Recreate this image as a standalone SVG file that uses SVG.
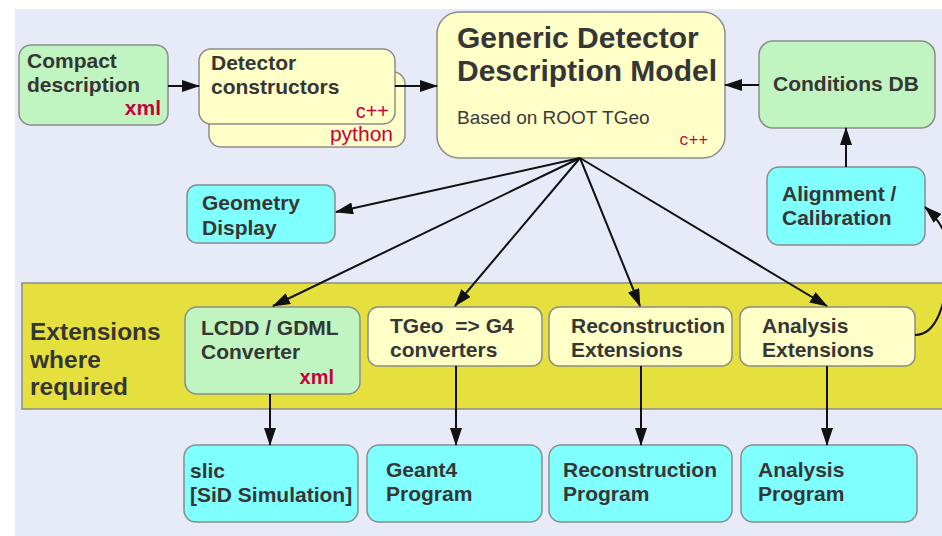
<svg xmlns="http://www.w3.org/2000/svg" width="942" height="536" viewBox="0 0 942 536">
<style>
.bx{stroke:#8c8c8c;stroke-width:1.5}
.g{fill:#c0f4c0}
.y{fill:#ffffc8}
.c{fill:#80ffff}
.t{font-family:"Liberation Sans",Arial,sans-serif;font-weight:bold;font-size:21px;fill:#363636}
.big{font-size:30px}
.ext{font-size:24.5px}
.r{font-family:"Liberation Sans",Arial,sans-serif;fill:#c8003c}
.ln{stroke:#111;stroke-width:2;fill:none;marker-end:url(#ah)}
</style>
<defs>
<marker id="ah" markerUnits="userSpaceOnUse" markerWidth="18" markerHeight="12" refX="17" refY="6" orient="auto">
<path d="M0,0 L18,6 L0,12 z" fill="#111"/>
</marker>
</defs>
<rect x="0" y="0" width="942" height="536" fill="#ffffff"/>
<rect x="15" y="9" width="927" height="527" fill="#e7eaf7"/>
<g id="band">
<rect x="22" y="283" width="925" height="126" fill="#e5e03e" stroke="#8c8c8c" stroke-width="1.5"/>
<text class="t ext" x="30" y="340">Extensions</text>
<text class="t ext" x="30" y="368">where</text>
<text class="t ext" x="30" y="395">required</text>
</g>
<g id="compact">
<rect class="bx g" x="19" y="45" width="149" height="80" rx="12"/>
<text class="t" x="27" y="68">Compact</text>
<text class="t" x="27" y="92">description</text>
<text class="r" x="161" y="115" style="font-size:21px;font-weight:bold" text-anchor="end">xml</text>
</g>
<g id="detector">
<rect class="bx y" x="209" y="72" width="196" height="75" rx="12"/>
<rect class="bx y" x="199" y="49" width="196" height="75" rx="12"/>
<text class="t" x="211" y="70">Detector</text>
<text class="t" x="211" y="94">constructors</text>
<text class="r" x="389" y="118" style="font-size:20px" text-anchor="end">c++</text>
<text class="r" x="393" y="141" style="font-size:21px" text-anchor="end">python</text>
</g>
<g id="gdd">
<rect class="bx y" x="437" y="12" width="288" height="146" rx="22"/>
<text class="t big" x="457" y="48">Generic Detector</text>
<text class="t big" x="457" y="81">Description Model</text>
<text x="457" y="124" style="font-family:'Liberation Sans',Arial,sans-serif;font-size:19px;fill:#3a3a3a">Based on ROOT TGeo</text>
<text x="708" y="145" style="font-family:'Liberation Mono',monospace;font-size:16px;fill:#c8003c" text-anchor="end">c++</text>
</g>
<g id="conditions">
<rect class="bx g" x="759" y="41" width="176" height="87" rx="14"/>
<text class="t" x="773" y="91">Conditions DB</text>
</g>
<g id="alignment">
<rect class="bx c" x="767" y="167" width="158" height="78" rx="12"/>
<text class="t" x="782" y="201">Alignment /</text>
<text class="t" x="782" y="225">Calibration</text>
</g>
<g id="geometry">
<rect class="bx c" x="187" y="185" width="148" height="58" rx="10"/>
<text class="t" x="202" y="210">Geometry</text>
<text class="t" x="202" y="235">Display</text>
</g>
<g id="lcdd">
<rect class="bx g" x="185" y="307" width="175" height="87" rx="12"/>
<text class="t" x="201" y="335">LCDD / GDML</text>
<text class="t" x="201" y="359">Converter</text>
<text class="r" x="334" y="384" style="font-size:20px;font-weight:bold" text-anchor="end">xml</text>
</g>
<g id="tgeo">
<rect class="bx y" x="368" y="307" width="174" height="59" rx="10"/>
<text class="t" x="390" y="333" xml:space="preserve">TGeo  =&gt; G4</text>
<text class="t" x="390" y="357">converters</text>
</g>
<g id="recoext">
<rect class="bx y" x="549" y="307" width="183" height="59" rx="10"/>
<text class="t" x="571" y="333">Reconstruction</text>
<text class="t" x="571" y="357">Extensions</text>
</g>
<g id="anaext">
<rect class="bx y" x="740" y="307" width="175" height="59" rx="10"/>
<text class="t" x="762" y="333">Analysis</text>
<text class="t" x="762" y="357">Extensions</text>
</g>
<g id="slic">
<rect class="bx c" x="184" y="445" width="174" height="77" rx="12"/>
<text class="t" x="190" y="478">slic</text>
<text class="t" x="190" y="502">[SiD Simulation]</text>
</g>
<g id="geant4">
<rect class="bx c" x="367" y="445" width="175" height="77" rx="12"/>
<text class="t" x="386" y="477">Geant4</text>
<text class="t" x="386" y="501">Program</text>
</g>
<g id="recoprog">
<rect class="bx c" x="549" y="445" width="183" height="77" rx="12"/>
<text class="t" x="563" y="477">Reconstruction</text>
<text class="t" x="563" y="501">Program</text>
</g>
<g id="anaprog">
<rect class="bx c" x="741" y="445" width="176" height="77" rx="12"/>
<text class="t" x="758" y="477">Analysis</text>
<text class="t" x="758" y="501">Program</text>
</g>
<g id="connectors">
<line class="ln" x1="168" y1="86" x2="199" y2="86"/>
<line class="ln" x1="395" y1="86" x2="437" y2="86"/>
<line class="ln" x1="759" y1="85" x2="725" y2="85"/>
<line class="ln" x1="846" y1="167" x2="846" y2="128"/>
<line class="ln" x1="580" y1="158" x2="336" y2="212"/>
<line class="ln" x1="580" y1="158" x2="273" y2="306"/>
<line class="ln" x1="580" y1="158" x2="455" y2="306"/>
<line class="ln" x1="580" y1="158" x2="640" y2="306"/>
<line class="ln" x1="580" y1="158" x2="827" y2="306"/>
<line class="ln" x1="270" y1="394" x2="270" y2="445"/>
<line class="ln" x1="456" y1="366" x2="456" y2="445"/>
<line class="ln" x1="641" y1="366" x2="641" y2="445"/>
<line class="ln" x1="827" y1="366" x2="827" y2="445"/>
<path class="ln" d="M915,335 C938,335 946,300 948,270 C950,240 945,225 925,207"/>
</g>
</svg>
